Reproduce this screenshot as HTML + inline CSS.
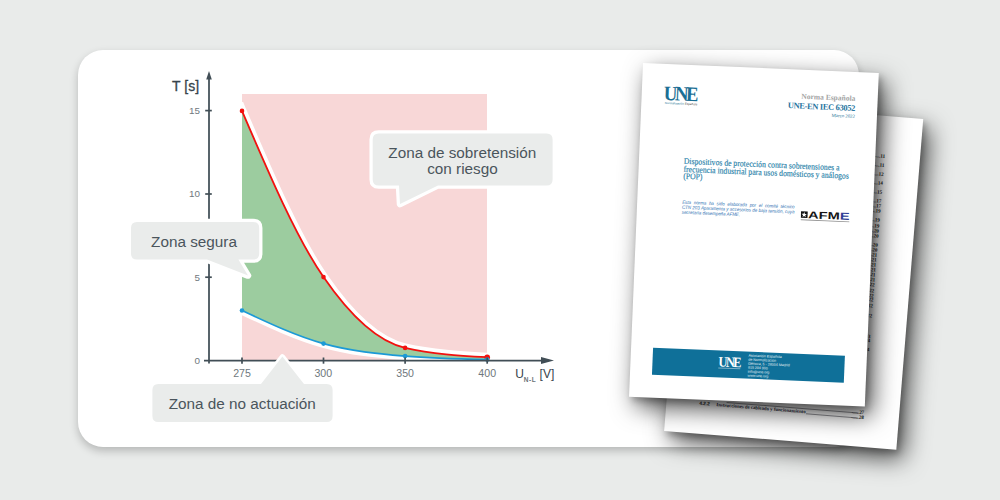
<!DOCTYPE html>
<html><head><meta charset="utf-8">
<style>
html,body{margin:0;padding:0;}
body{width:1000px;height:500px;overflow:hidden;background:#e9ebea;position:relative;font-family:"Liberation Sans",sans-serif;}
.card{position:absolute;left:78.4px;top:50px;width:781px;height:396.6px;background:#fff;border-radius:25px;box-shadow:0 4px 8px rgba(0,0,0,0.22);}
svg.chart{position:absolute;left:0;top:0;}
.page{position:absolute;background:#fff;transform-origin:0 0;overflow:hidden;}
#back{left:691px;top:99.8px;width:233px;height:332px;transform:rotate(4.65deg);box-shadow:3px 4px 6px rgba(0,0,0,0.22),7px 9px 25px rgba(0,0,0,0.7);}
#front{left:642.8px;top:63.2px;width:236px;height:334px;transform:rotate(2.4deg);box-shadow:3px 4px 6px rgba(0,0,0,0.22),7px 9px 25px rgba(0,0,0,0.7);}

.pg{position:absolute;white-space:nowrap;line-height:1;}
#front .une{position:absolute;left:22px;top:18.9px;font-family:"Liberation Serif",serif;font-weight:bold;font-size:20.5px;color:#1b6f94;letter-spacing:-2.6px;transform:scaleX(0.915);transform-origin:0 0;line-height:1;}
#front .unesub{position:absolute;left:23.5px;top:37.6px;font-size:3px;color:#1b6f94;line-height:1;white-space:nowrap;}
#front .norma{position:absolute;right:22.4px;top:23.1px;font-family:"Liberation Serif",serif;font-weight:bold;font-size:7.5px;color:#a3a3a3;line-height:1;white-space:nowrap;}
#front .code{position:absolute;right:22.2px;top:32.7px;font-family:"Liberation Serif",serif;font-weight:bold;font-size:8.4px;color:#1f74a0;line-height:1;white-space:nowrap;letter-spacing:-0.3px;}
#front .fecha{position:absolute;right:22px;top:42.9px;font-family:"Liberation Serif",serif;font-size:4.8px;color:#1b6f94;line-height:1;white-space:nowrap;}
#front .title{position:absolute;left:44.8px;top:93.2px;font-family:"Liberation Serif",serif;font-size:8.55px;line-height:7.5px;color:#2a83aa;white-space:nowrap;transform:scaleX(0.9);-webkit-text-stroke:0.15px #2a83aa;transform-origin:0 0;}
#front .note .j{text-align:justify;text-align-last:justify;}
#front .note{position:absolute;left:44.8px;top:134.6px;width:125px;transform:scaleX(0.9);transform-origin:0 0;font-style:italic;font-size:4.9px;line-height:5px;color:#1f6cb0;text-align:justify;}
#front .afme{position:absolute;left:164.2px;top:140.6px;width:49px;height:10px;}
#front .band{position:absolute;left:22px;top:284.3px;width:192px;height:27px;background:#0f7099;}
#front .band .une2{position:absolute;left:65.6px;top:4.1px;font-family:"Liberation Serif",serif;font-weight:bold;font-size:14.5px;color:#fff;letter-spacing:-1.9px;transform:scaleX(0.86);transform-origin:0 0;line-height:1;}
#front .band .sub2{position:absolute;left:66px;top:16.5px;width:22px;height:0.6px;background:rgba(255,255,255,0.45);}
#front .band .addr{position:absolute;left:95.6px;top:1.9px;font-size:3.6px;line-height:4px;color:#e8f2f6;white-space:nowrap;}
.toc{position:absolute;left:0;top:0;width:233px;height:332px;}
.toc div{position:absolute;right:35px;font-family:"Liberation Serif",serif;font-weight:bold;font-size:5px;line-height:1;color:#222;white-space:nowrap;}
</style></head><body>
<div class="card"></div>
<svg class="chart" width="1000" height="500" viewBox="0 0 1000 500">
  <rect x="242" y="94" width="245" height="266.5" fill="#f8d7d7"/>
  <path d="M238.9,103.6 L242,110.9 C269.17,174.25 296.33,237.60 323.50,277.10 C350.70,316.64 377.90,341.74 405.10,347.90 C432.47,354.10 459.83,355.65 487.20,357.20" fill="none" stroke="#fff" stroke-width="9"/>
  <path d="M242.00,310.50 C269.17,323.25 296.33,336.00 323.50,343.60 C350.70,351.21 377.90,353.78 405.10,356.10 C432.47,358.43 459.83,359.02 487.20,359.60" fill="none" stroke="#fff" stroke-width="8.5"/>
  <path d="M242.00,110.90 C269.17,174.25 296.33,237.60 323.50,277.10 C350.70,316.64 377.90,341.74 405.10,347.90 C432.47,354.10 459.83,355.65 487.20,357.20 L487.20,359.60 C459.83,359.02 432.47,358.43 405.10,356.10 C377.90,353.78 350.70,351.21 323.50,343.60 C296.33,336.00 269.17,323.25 242.00,310.50 Z" fill="#9ccc9f"/>
  <path d="M242.00,110.90 C269.17,174.25 296.33,237.60 323.50,277.10 C350.70,316.64 377.90,341.74 405.10,347.90 C432.47,354.10 459.83,355.65 487.20,357.20" fill="none" stroke="#f2110f" stroke-width="1.8"/>
  <path d="M242.00,310.50 C269.17,323.25 296.33,336.00 323.50,343.60 C350.70,351.21 377.90,353.78 405.10,356.10 C432.47,358.43 459.83,359.02 487.20,359.60" fill="none" stroke="#1c9ad6" stroke-width="1.7"/>
  <g fill="#f2110f"><circle cx="242" cy="110.9" r="2.3"/><circle cx="323.5" cy="277.1" r="2.3"/><circle cx="405.1" cy="347.9" r="2.3"/><circle cx="487.2" cy="357.2" r="2.8"/></g>
  <g fill="#1c9ad6"><circle cx="242" cy="310.5" r="2.3"/><circle cx="323.5" cy="343.6" r="2.3"/><circle cx="405.1" cy="356.1" r="2.3"/><circle cx="487.2" cy="359.6" r="2.3"/></g>
  <!-- axes -->
  <g stroke="#414e56" stroke-width="1.75">
    <line x1="209" y1="78" x2="209" y2="363.5"/>
    <line x1="204" y1="360.5" x2="544" y2="360.5"/>
  </g>
  <path d="M209,71 L211.8,79.6 L206.2,79.6 Z" fill="#414e56"/>
  <path d="M554,360.5 L541,356.9 L541,364.1 Z" fill="#414e56"/>
  <g stroke="#414e56" stroke-width="1.7">
    <line x1="205.2" y1="110.6" x2="211.8" y2="110.6"/>
    <line x1="205.2" y1="194" x2="211.8" y2="194"/>
    <line x1="205.2" y1="277.2" x2="211.8" y2="277.2"/>
    <line x1="242" y1="357.5" x2="242" y2="363.7"/>
    <line x1="323.5" y1="357.5" x2="323.5" y2="363.7"/>
    <line x1="405.1" y1="357.5" x2="405.1" y2="363.7"/>
    <line x1="487.2" y1="357.5" x2="487.2" y2="363.7"/>
  </g>
  <g font-family="Liberation Sans" font-size="9.9" fill="#6f787d" text-anchor="end">
    <text x="199.9" y="113.7">15</text>
    <text x="199.9" y="197.1">10</text>
    <text x="199.9" y="280.6">5</text>
    <text x="199.9" y="364">0</text>
  </g>
  <g font-family="Liberation Sans" font-size="10.6" fill="#6f787d" text-anchor="middle">
    <text x="242" y="376.6">275</text>
    <text x="323.3" y="376.6">300</text>
    <text x="405.1" y="376.6">350</text>
    <text x="487.2" y="376.6">400</text>
  </g>
  <text x="172.1" y="90.8" font-family="Liberation Sans" font-size="14" fill="#37444c" stroke="#37444c" stroke-width="0.3">T [s]</text>
  <text x="515.3" y="378" font-family="Liberation Sans" font-size="12" fill="#37444c">U</text>
  <text x="523.8" y="381.9" font-family="Liberation Sans" font-size="6.5" font-weight="bold" fill="#6a7378" letter-spacing="0.5">N-L</text>
  <text x="539.6" y="377.6" font-family="Liberation Sans" font-size="12" fill="#37444c">[V]</text>
  <!-- bubbles -->
  <g fill="#fff" stroke="#fff" stroke-width="6.5" stroke-linejoin="round">
    <path d="M378.7,133.5 H546.6 Q552.6,133.5 552.6,139.5 V179.4 Q552.6,185.4 546.6,185.4 H438 L400,204 L399,185.4 H378.7 Q372.7,185.4 372.7,179.4 V139.5 Q372.7,133.5 378.7,133.5 Z"/>
    <path d="M137,222 H253.2 Q259.2,222 259.2,228 V253.6 Q259.2,259.6 253.2,259.6 H238.4 L248,275.6 L207,259.6 H137 Q131,259.6 131,253.6 V228 Q131,222 137,222 Z"/>
    <path d="M261,384 L282.4,356.6 L304,384 Z" stroke-width="5"/>
  </g>
  <g fill="#eaeceb">
    <path d="M378.7,133.5 H546.6 Q552.6,133.5 552.6,139.5 V179.4 Q552.6,185.4 546.6,185.4 H438 L400,204 L399,185.4 H378.7 Q372.7,185.4 372.7,179.4 V139.5 Q372.7,133.5 378.7,133.5 Z"/>
    <path d="M137,222 H253.2 Q259.2,222 259.2,228 V253.6 Q259.2,259.6 253.2,259.6 H238.4 L248,275.6 L207,259.6 H137 Q131,259.6 131,253.6 V228 Q131,222 137,222 Z"/>
    <path d="M158.4,384 H261 L282.4,356.6 L304,384 H326.6 Q332.6,384 332.6,390 V416 Q332.6,422 326.6,422 H158.4 Q152.4,422 152.4,416 V390 Q152.4,384 158.4,384 Z"/>
  </g>
  <g font-family="Liberation Sans" font-size="15.3" fill="#4a555c" text-anchor="middle">
    <text x="462.3" y="157.6">Zona de sobretensión</text>
    <text x="462.5" y="174">con riesgo</text>
    <text x="194" y="247">Zona segura</text>
    <text x="242.2" y="408.6">Zona de no actuación</text>
  </g>
</svg>
<div class="page" id="back"><div class="toc"><div style="top:38.3px">......11</div><div style="top:47.1px">......11</div><div style="top:55.8px">......12</div><div style="top:65.1px">......14</div><div style="top:73.9px">......15</div><div style="top:82.9px">......17</div><div style="top:87.9px">......17</div><div style="top:93.1px">......19</div><div style="top:102.4px">......19</div><div style="top:107.7px">......19</div><div style="top:112.5px">......20</div><div style="top:117.6px">......20</div><div style="top:126.5px">......20</div><div style="top:131.8px">......20</div><div style="top:137.1px">......21</div><div style="top:142.3px">......21</div><div style="top:147.3px">......21</div><div style="top:152.4px">......21</div><div style="top:157.2px">......21</div><div style="top:162.2px">......21</div><div style="top:167.1px">......22</div><div style="top:172.8px">......22</div><div style="top:177.6px">......22</div><div style="top:182.2px">......22</div><div style="top:187.7px">......22</div><div style="top:198.3px">......22</div><div style="top:219.2px">......23</div><div style="top:223.4px">......24</div><div style="top:232.4px">......24</div><div style="top:294.5px">......27</div><div style="top:299.7px">......28</div></div>
<div style="position:absolute;left:32.8px;top:299.8px;font-size:4.8px;font-weight:bold;color:#333;font-family:'Liberation Sans',sans-serif;white-space:nowrap;line-height:1">4.2.2</div>
<div style="position:absolute;left:50px;top:299.7px;font-size:4.8px;font-weight:bold;color:#2b2b3a;font-family:'Liberation Serif',serif;white-space:nowrap;line-height:1">Instrucciones de cableado y funcionamiento</div>
<div style="position:absolute;left:140px;top:303.2px;width:52px;border-top:0.7px solid rgba(60,60,70,0.55);"></div>
<div style="position:absolute;left:60px;top:297.7px;width:132px;border-top:0.7px solid rgba(60,60,70,0.55);"></div>
</div>
<div class="page" id="front">
<div class="une">UNE</div>
<div class="unesub">Normalización <span style="color:#444">Española</span></div>
<div class="norma">Norma Española</div>
<div class="code">UNE-EN IEC 63052</div>
<div class="fecha">Marzo 2022</div>
<div class="title">Dispositivos de protección contra sobretensiones a<br>frecuencia industrial para usos domésticos y análogos<br>(POP)</div>
<div class="note"><div class="j">Esta norma ha sido elaborada por el comité técnico</div><div class="j">CTN 203 Aparamenta y accesorios de baja tensión, cuya</div><div>secretaría desempeña AFME.</div></div>
<svg class="afme" viewBox="0 0 49 10" width="49" height="10">
 <rect x="0" y="0.4" width="6.8" height="6.6" fill="#111"/>
 <path d="M3.4,1.2 L4.1,3 L6,3.1 L4.5,4.3 L5.1,6.2 L3.4,5.1 L1.7,6.2 L2.3,4.3 L0.8,3.1 L2.7,3 Z" fill="#fff"/>
 <text x="7.4" y="7.2" font-family="Liberation Sans" font-weight="bold" font-size="10.2" fill="#151515" textLength="41.4" lengthAdjust="spacingAndGlyphs">AFM<tspan fill="#2d3d94">E</tspan></text>
 <rect x="0" y="8.6" width="49" height="0.8" fill="#666" opacity="0.7"/>
</svg>
<div class="band">
 <div class="une2">UNE</div>
 <div class="sub2"></div>
 <div class="addr">Asociación Española<br>de Normalización<br>Génova, 6 - 28004 Madrid<br>915 294 900<br>info@une.org<br>www.une.org</div>
</div>
</div>
</body></html>
